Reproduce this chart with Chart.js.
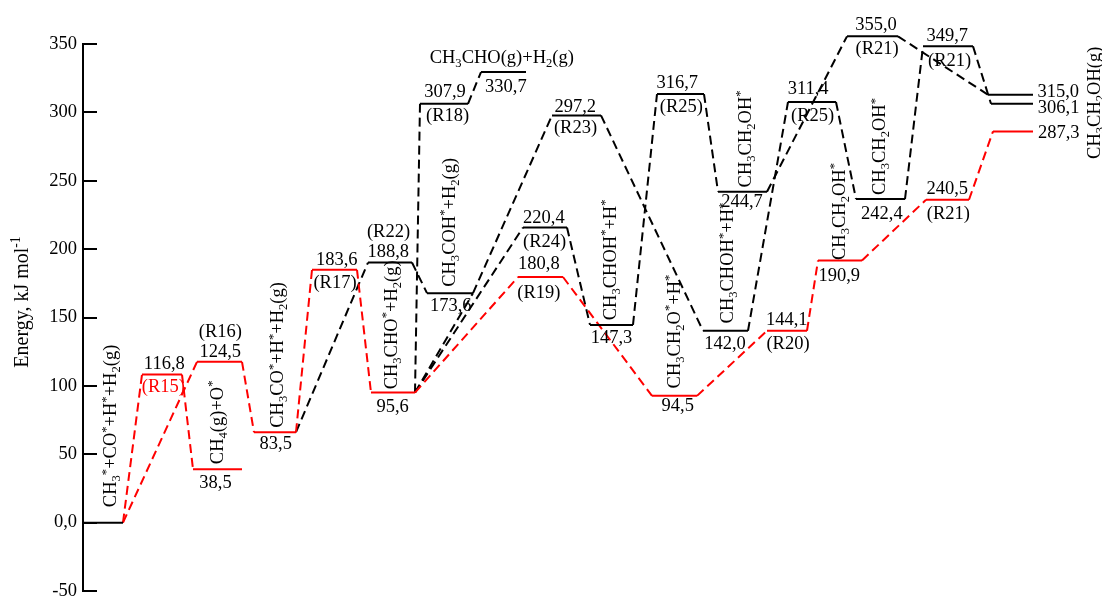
<!DOCTYPE html>
<html><head><meta charset="utf-8">
<script src="https://cdn.jsdelivr.net/npm/chart.js@4"></script>
<style>html,body{margin:0;padding:0;background:#fff}canvas{display:block}</style>
</head><body>
<canvas id="c" width="1102" height="599"></canvas>
<script>
// ---------- DATA ----------
const yTicks = [-50, 0, 50, 100, 150, 200, 250, 300, 350];
const yTickText = ['-50', '0,0', '50', '100', '150', '200', '250', '300', '350'];

// energy levels (reaction coordinate start/end, energy as drawn)
const levelEnergy = [0, 108.3, 117.6, 39.1, 66.1, 184.9, 190.2, 95.1, 167.8, 306.3, 329.5, 297.8, 215.8, 179.6, 144.6, 92.7, 313.4, 140.3, 242.0, 140.3, 307.6, 191.7, 236.6, 355.6, 348.3, 236.1, 312.9, 306.3, 286.1];
const levelStart = [0, 5.9, 11.4, 11.0, 17.1, 22.9, 28.5, 28.8, 34.4, 33.7, 39.8, 46.9, 44.0, 43.5, 50.7, 56.9, 57.4, 62.0, 63.5, 68.4, 70.5, 73.5, 77.3, 76.4, 84.0, 84.3, 90.5, 90.8, 91.0];
const levelEnd = [4.0, 9.9, 15.9, 15.9, 21.3, 27.4, 32.9, 33.2, 39.0, 38.5, 44.3, 51.8, 48.4, 48.0, 55.0, 61.4, 62.1, 66.5, 68.4, 72.4, 75.3, 77.9, 82.2, 81.5, 89.0, 88.6, 95.0, 95.0, 95.0];
const levelPath = ['B','A','A','A','A','A','B','A','B','B','B','B','B','A','B','A','B','B','B','A','B','A','B','B','B','A','B','B','A'];
const levelValueText = ['', '116,8', '124,5', '38,5', '83,5', '183,6', '188,8', '95,6', '173,6', '307,9', '330,7', '297,2', '220,4', '180,8', '147,3', '94,5', '316,7', '142,0', '244,7', '144,1', '311,4', '190,9', '242,4', '355,0', '349,7', '240,5', '315,0', '306,1', '287,3'];
const levelStepText = ['', '(R15)', '(R16)', '', '', '(R17)', '(R22)', '', '', '(R18)', '', '(R23)', '(R24)', '(R19)', '', '', '(R25)', '', '', '(R20)', '(R25)', '', '', '(R21)', '(R21)', '(R21)', '', '', ''];
const levelSpeciesText = ['CH_3^*+CO^*+H^*+H_2(g)', '', '', 'CH_4(g)+O^*', 'CH_3CO^*+H^*+H_2(g)', '', '', 'CH_3CHO^*+H_2(g)', 'CH_3COH^*+H_2(g)', '', 'CH_3CHO(g)+H_2(g)', '', '', '', 'CH_3CHOH^*+H^*', 'CH_3CH_2O^*+H^*', '', 'CH_3CHOH^*+H^*', 'CH_3CH_2OH^*', '', '', 'CH_3CH_2OH^*', 'CH_3CH_2OH^*', '', '', '', '', 'CH_3CH_2OH(g)', ''];

// connections: [fromLevel, fromEnd, toLevel, toEnd]
const redSteps = [[0,'R',1,'L'],[0,'R',2,'L'],[1,'R',3,'L'],[2,'R',4,'L'],[4,'R',5,'L'],[5,'R',7,'L'],[7,'R',13,'L'],[13,'R',15,'L'],[15,'R',19,'L'],[19,'R',21,'L'],[21,'R',25,'L'],[25,'R',28,'L']];
const blackSteps = [[4,'R',6,'L'],[6,'R',8,'L'],[7,'R',9,'L'],[9,'R',10,'L'],[7,'R',8,'R'],[8,'R',11,'L'],[7,'R',12,'L'],[12,'R',14,'L'],[11,'R',17,'L'],[14,'R',16,'L'],[16,'R',18,'L'],[17,'R',20,'L'],[18,'R',23,'L'],[20,'R',22,'L'],[22,'R',24,'L'],[23,'R',26,'L'],[24,'R',27,'L']];

// ---------- LAYOUT / STYLE ----------
const COLORS = { A: '#ff0000', B: '#000000' };
const FONT = 'Liberation Serif';
const FS = 18.5;
// label offsets in px relative to the level centre
const valueOff = {1:[2.3,-12],2:[0.8,-11.3],3:[-2,13.2],4:[0.8,10.2],5:[2.2,-11],6:[-1.7,-11.9],7:[-0.4,13.1],8:[0.8,11.7],9:[1,-12.7],10:[2.4,13.5],11:[-1.2,-9],12:[-1.1,-10.2],13:[-1.6,-14],14:[0,11.7],15:[3.3,9],16:[-3.3,-11.8],17:[-0.5,12.3],18:[-0.5,8.8],19:[-0.3,-11.8],20:[-3.9,-14],21:[-0.8,14.3],22:[1.4,14],23:[3.5,-12.7],24:[-0.8,-11.7],25:[-0.3,-11.7],26:[47.8,-4.2],27:[46.6,3.5],28:[45.7,0.8]};
const stepOff = {1:[1.3,12.3],2:[0.8,-30.3],5:[0.5,13.3],6:[-1.5,-31],9:[3.6,12.2],11:[-1,12.6],12:[-0.3,14],13:[-1.6,16],16:[0.8,12.4],19:[1,13.2],20:[0.6,13.5],23:[4.7,12.5],24:[1.7,14.1],25:[0.8,14.2]};
const stepColor = {1:'#ff0000'};
const speciesOff = {0:[7.1,-96.7,1],3:[-0.8,-46.8,1],4:[2.3,-77.3,1],7:[-2.2,-67.7,1],8:[-1,-70.8,1],10:[-1.7,-15.3,0],14:[-1.7,-65,1],15:[-0.9,-64.3,1],17:[1.8,-67.7,1],18:[2.5,-52.8,1],21:[-1,-49,1],22:[-1.3,-52.6,1],27:[81.5,-1,1]};

// ---------- DATASETS ----------
const datasets = [];
function endX(i, e) { return e === 'L' ? levelStart[i] : levelEnd[i]; }
function addSteps(list, col) {
  list.forEach(s => {
    datasets.push({
      data: [{x: endX(s[0], s[1]), y: levelEnergy[s[0]]}, {x: endX(s[2], s[3]), y: levelEnergy[s[2]]}],
      borderColor: COLORS[col], borderWidth: 2, borderDash: [9, 5], pointRadius: 0, clip: false, fill: false, tension: 0
    });
  });
}
levelEnergy.forEach((v, i) => {
  datasets.push({
    data: [{x: levelStart[i], y: v}, {x: levelEnd[i], y: v}],
    borderColor: COLORS[levelPath[i]], borderWidth: 2, pointRadius: 0, clip: false, fill: false
  });
});
addSteps(redSteps, 'A');
addSteps(blackSteps, 'B');

// ---------- RICH TEXT ----------
function parseRich(s) {
  const out = []; let i = 0, buf = '';
  while (i < s.length) {
    const c = s[i];
    if (c === '_' || c === '^') {
      if (buf) { out.push({t: buf, k: 0}); buf = ''; }
      let t;
      if (s[i+1] === '{') { const j = s.indexOf('}', i); t = s.slice(i+2, j); i = j + 1; }
      else { t = s[i+1]; i += 2; }
      out.push({t, k: c === '_' ? 1 : 2});
    } else { buf += c; i++; }
  }
  if (buf) out.push({t: buf, k: 0});
  return out;
}
function drawRich(ctx, s, x, y, size, color, rot, baseFrac) {
  const parts = parseRich(s);
  const small = size * 0.68;
  let w = 0;
  parts.forEach(p => { ctx.font = (p.k ? small : size) + 'px "' + FONT + '"'; p.w = ctx.measureText(p.t).width; w += p.w; });
  ctx.save();
  ctx.translate(x, y);
  if (rot) ctx.rotate(-Math.PI / 2);
  ctx.fillStyle = color; ctx.textBaseline = 'alphabetic'; ctx.textAlign = 'left';
  let cx = -w / 2;
  const base = size * (baseFrac == null ? 0.33 : baseFrac);
  parts.forEach(p => {
    ctx.font = (p.k ? small : size) + 'px "' + FONT + '"';
    const dy = p.k === 1 ? size * 0.22 : (p.k === 2 ? -size * 0.36 : 0);
    ctx.fillText(p.t, cx, base + dy);
    cx += p.w;
  });
  ctx.restore();
}

const annotate = {
  id: 'annotate',
  afterDraw(chart) {
    const ctx = chart.ctx, xs = chart.scales.x, ys = chart.scales.y;
    // inward tick marks
    ctx.save();
    ctx.strokeStyle = '#000'; ctx.lineWidth = 2;
    yTicks.forEach(v => {
      const py = Math.round(ys.getPixelForValue(v));
      ctx.beginPath(); ctx.moveTo(chart.chartArea.left, py); ctx.lineTo(chart.chartArea.left + 14, py); ctx.stroke();
    });
    ctx.restore();
    levelEnergy.forEach((v, i) => {
      const cx = (xs.getPixelForValue(levelStart[i]) + xs.getPixelForValue(levelEnd[i])) / 2;
      const cy = ys.getPixelForValue(v);
      if (levelValueText[i] && valueOff[i]) drawRich(ctx, levelValueText[i], cx + valueOff[i][0], cy + valueOff[i][1], FS, '#000', 0);
      if (levelStepText[i] && stepOff[i]) drawRich(ctx, levelStepText[i], cx + stepOff[i][0], cy + stepOff[i][1], FS, stepColor[i] || '#000', 0, 0.28);
      if (levelSpeciesText[i] && speciesOff[i]) drawRich(ctx, levelSpeciesText[i], cx + speciesOff[i][0], cy + speciesOff[i][1], FS, '#000', speciesOff[i][2]);
    });
    // axis title
    drawRich(ctx, 'Energy, kJ mol^{-1}', 21, 302, 20, '#000', 1);
  }
};

new Chart(document.getElementById('c'), {
  type: 'line',
  data: { datasets },
  options: {
    responsive: false,
    animation: false,
    events: [],
    layout: { padding: { top: 44, bottom: 8, right: 62, left: 0 } },
    scales: {
      x: { type: 'linear', display: false, min: 0, max: 95.7 },
      y: {
        type: 'linear', min: -50, max: 350,
        afterFit(scale) { scale.width = 83; scale.paddingTop = 0; scale.paddingBottom = 0; },
        afterBuildTicks(scale) { scale.ticks = yTicks.map(v => ({value: v})); },
        ticks: {
          padding: 6, color: '#000',
          font: { family: FONT, size: FS, lineHeight: 0.2 },
          callback: (v) => { const k = yTicks.indexOf(v); return k >= 0 ? yTickText[k] : ''; }
        },
        grid: { display: true, drawOnChartArea: false, drawTicks: false },
        border: { display: true, color: '#000', width: 2 }
      }
    },
    plugins: { legend: { display: false }, tooltip: { enabled: false }, title: { display: false } }
  },
  plugins: [annotate]
});
</script></body></html>
